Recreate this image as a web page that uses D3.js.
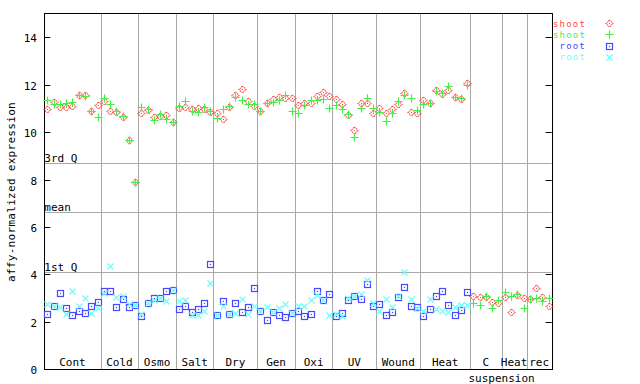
<!DOCTYPE html>
<html><head><meta charset="utf-8">
<script src="https://cdn.jsdelivr.net/npm/d3@7"></script>
<style>body{margin:0;background:#fff}svg{display:block}text{font-family:"DejaVu Sans Mono",monospace;font-size:11px}</style>
</head><body><svg id="c" width="640" height="384"></svg>
<script>
const groupLabels = ["Cont","Cold","Osmo","Salt","Dry","Gen","Oxi","UV","Wound","Heat","C","Heat","rec"];
const groupSizes  = [9,6,6,6,7,6,6,7,7,8,5,4,4];
const yTicks = [0,2,4,6,8,10,12,14];
const refLines = [{label:"3rd Q", v:8.69},{label:"mean", v:6.62},{label:"1st Q", v:4.09}];
const seriesNames = ["shoot","shoot","root","root"];
const shootRed = [10.96,11.25,11.07,11.04,11.10,11.58,11.58,10.89,11.13,
 11.30,10.89,10.86,10.65,9.67,7.90,
 10.79,10.93,10.62,10.69,10.72,10.42,
 11.00,11.04,10.96,11.00,10.96,10.83,
 10.79,10.54,11.07,11.56,11.80,11.30,11.08,
 10.87,11.21,11.38,11.46,11.42,11.42,
 11.13,11.21,11.21,11.51,11.68,11.51,
 11.38,11.17,10.71,10.07,11.21,11.21,10.79,
 11.00,10.79,10.96,11.17,11.63,10.83,10.79,
 11.34,11.21,11.76,11.59,11.76,11.46,11.38,12.06,
 3.08,3.04,3.04,2.83,2.78,
 3.04,2.41,3.12,2.99,
 2.95,3.42,3.04,2.66];
const shootGreen = [11.34,11.17,11.17,11.23,11.25,11.55,11.53,10.90,10.62,
 11.42,11.18,10.87,10.66,9.68,7.91,
 11.04,10.96,10.50,10.77,10.53,10.41,
 11.08,11.30,10.87,10.83,11.04,10.87,
 10.58,10.96,11.08,11.46,11.34,11.17,11.17,
 10.87,11.21,11.25,11.34,11.55,10.87,
 10.79,11.13,11.34,11.34,11.38,11.00,
 11.13,10.96,10.75,9.78,11.00,11.42,11.00,
 10.83,10.45,10.79,11.30,11.55,11.42,10.92,
 11.17,11.21,11.72,11.63,11.93,11.46,11.42,11.97,
 2.78,2.70,3.08,2.57,2.91,
 3.25,3.08,3.16,2.57,
 2.95,2.99,2.87,2.99];
const rootBlue = [2.32,2.66,3.21,2.57,2.28,2.45,2.36,2.66,2.83,
 3.32,3.29,2.62,2.96,2.62,2.70,
 2.24,2.79,2.99,2.99,3.29,3.33,
 2.53,2.66,2.41,2.53,2.78,4.43,
 2.28,2.87,2.32,2.78,2.41,2.62,3.42,
 2.45,2.07,2.41,2.28,2.20,2.36,
 2.45,2.24,2.32,3.29,2.91,3.16,
 2.24,2.36,2.91,3.08,2.95,3.58,2.66,
 2.74,2.28,2.41,3.04,3.46,2.66,2.62,
 2.24,2.53,3.08,3.29,2.70,2.28,2.49,3.25];
const rootCyan = [2.74,2.66,2.62,2.32,3.30,2.66,2.99,2.36,2.57,
 3.22,4.34,3.04,3.08,2.74,2.70,
 2.32,2.79,2.91,2.99,2.87,3.33,
 2.87,2.91,2.28,2.28,2.45,3.63,
 2.28,2.66,2.32,2.36,2.95,2.32,2.66,
 2.45,2.62,2.41,2.57,2.74,2.36,
 2.66,2.66,2.91,3.12,2.91,2.28,
 2.32,2.24,2.99,3.08,3.16,3.75,2.78,
 2.45,2.95,2.62,3.08,4.09,2.95,2.57,
 2.45,2.95,2.53,2.45,2.41,2.62,2.70,2.70];

const W=640,H=384, L=44.3, R=551.7, T=13.4, B=369.4;
const N = d3.sum(groupSizes);
const svg = d3.select("#c");
const x = d3.scaleLinear().domain([0,N]).range([L,R]);
const y = d3.scaleLinear().domain([0,15]).range([B,T]);
const gray="#a8a8a8";
const colors=["#ff4848","#44ee44","#4848ff","#66ffff"];

// group separators
let starts=[0]; groupSizes.forEach((s,i)=>starts.push(starts[i]+s));
svg.append("g").selectAll("line").data(starts.slice(1,-1)).join("line")
 .attr("x1",d=>Math.round(x(d))+0.5).attr("x2",d=>Math.round(x(d))+0.5)
 .attr("y1",T).attr("y2",B).attr("stroke",gray).attr("stroke-width",1);
// reference lines
const rl=svg.append("g");
refLines.forEach(r=>{
 const yy=Math.round(y(r.v))+0.5;
 rl.append("line").attr("x1",L).attr("x2",R).attr("y1",yy).attr("y2",yy).attr("stroke",gray);
 rl.append("text").attr("x",L).attr("y",yy-2).text(r.label).attr("fill","#000");
});
// group labels
svg.append("g").selectAll("text").data(groupLabels).join("text")
 .attr("x",(d,i)=>x((starts[i]+starts[i+1])/2)).attr("y",B-3).attr("text-anchor","middle").text(d=>d);
svg.append("text").attr("x",x(starts[11])).attr("y",382).attr("text-anchor","middle").text("suspension");

// axis ticks (inside) and labels
const ax=svg.append("g");
yTicks.forEach(t=>{
 const yy=Math.round(y(t))+0.5;
 ax.append("line").attr("x1",L).attr("x2",L+6).attr("y1",yy).attr("y2",yy).attr("stroke","#000");
 ax.append("line").attr("x1",R-6).attr("x2",R).attr("y1",yy).attr("y2",yy).attr("stroke","#000");
 ax.append("text").attr("x",37).attr("y",yy+4).attr("text-anchor","end").text(t);
});
svg.append("rect").attr("x",Math.round(L)+0.5).attr("y",Math.round(T)+0.5)
 .attr("width",Math.round(R)-Math.round(L)).attr("height",Math.round(B)-Math.round(T))
 .attr("fill","none").attr("stroke","#000");
svg.append("text").attr("transform","translate(15,192) rotate(-90)").attr("text-anchor","middle")
 .attr("letter-spacing","0.3px").text("affy-normalized expression");

// markers
function marker(g,type,cx,cy,col){
 if(type===0){
  g.append("path").attr("d",`M${cx},${cy-3.5}L${cx+3.5},${cy}L${cx},${cy+3.5}L${cx-3.5},${cy}Z`).attr("fill","none").attr("stroke",col).attr("stroke-width",1.2).attr("stroke-dasharray","1.2,0.8");
  g.append("rect").attr("x",cx-0.5).attr("y",cy-0.5).attr("width",1).attr("height",1).attr("fill",col);
 } else if(type===1){
  g.append("path").attr("d",`M${cx-4},${cy}H${cx+4}M${cx},${cy-4}V${cy+4}`).attr("stroke",col).attr("stroke-width",1.2);
 } else if(type===2){
  g.append("rect").attr("x",cx-3).attr("y",cy-3).attr("width",6).attr("height",6).attr("fill","none").attr("stroke",col).attr("stroke-width",1.2);
  g.append("rect").attr("x",cx-0.6).attr("y",cy-0.6).attr("width",1.2).attr("height",1.2).attr("fill",col);
 } else {
  g.append("path").attr("d",`M${cx-3},${cy-3}L${cx+3},${cy+3}M${cx-3},${cy+3}L${cx+3},${cy-3}`).attr("stroke",col).attr("stroke-width",1.1);
 }
}
const series=[shootRed,shootGreen,rootBlue,rootCyan];
series.forEach((arr,si)=>{
 const g=svg.append("g");
 arr.forEach((v,i)=>{ if(v==null) return; marker(g,si,Math.round(x(i+0.5))+0.5,Math.round(y(v))+0.5,colors[si]); });
});
// legend
const lg=svg.append("g");
seriesNames.forEach((n,i)=>{
 const yy=23+i*11.3;
 lg.append("text").attr("x",586).attr("y",yy+3.5).attr("text-anchor","end").attr("fill",colors[i])
  .style("font-size","9px").attr("letter-spacing","1.2px").text(n);
 marker(lg,i,609.5,Math.round(yy)+0.5,colors[i]);
});
</script></body></html>
